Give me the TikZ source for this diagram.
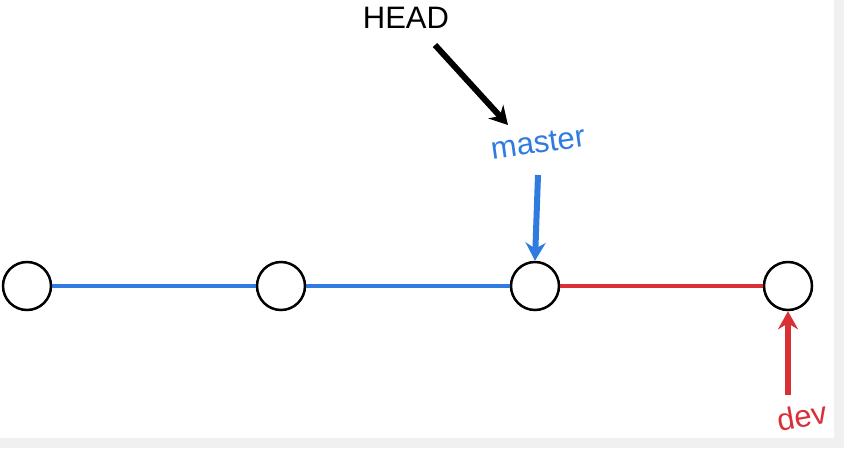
\documentclass[tikz,border=0pt]{standalone}
\usepackage{fontspec}
\usetikzlibrary{arrows.meta}
\setmainfont{Liberation Sans}
\definecolor{gitblue}{HTML}{2F7BE0}
\definecolor{gitred}{HTML}{D93035}
\begin{document}
\begin{tikzpicture}[x=1pt,y=-1pt,
  commit/.style={circle,draw=black,line width=2.5pt,fill=white,minimum size=48pt,inner sep=0pt},
  ptr/.style={line width=6pt,-{Stealth[length=18pt,width=20pt]}},
  lbl/.style={font=\fontsize{31}{33}\selectfont,inner sep=1pt}]
\fill[gray!12] (0,0) rectangle (844,448);
\fill[white] (0,0) rectangle (834,438);
\useasboundingbox (0,0) rectangle (844,448);
\node[commit] (c1) at (27,286) {};
\node[commit] (c2) at (281,286) {};
\node[commit] (c3) at (535,286) {};
\node[commit] (c4) at (788,286) {};
\draw[gitblue,line width=3.5pt] (c1) -- (c2);
\draw[gitblue,line width=3.5pt] (c2) -- (c3);
\draw[gitred,line width=3.5pt] (c3) -- (c4);
\node[lbl] (head) at (406,18) {HEAD};
\node[lbl,gitblue,rotate=8] (master) at (538,143) {master};
\node[lbl,gitred,rotate=10] (dev) at (802,416) {dev};
\coordinate (h1) at (435,45);
\coordinate (m1) at (538,175);
\coordinate (d1) at (788,395);
\draw[ptr,black] (h1) -- (508,125);
\draw[ptr,gitblue] (m1) -- (c3.north);
\draw[ptr,gitred] (d1) -- (c4.south);
\end{tikzpicture}
\end{document}
